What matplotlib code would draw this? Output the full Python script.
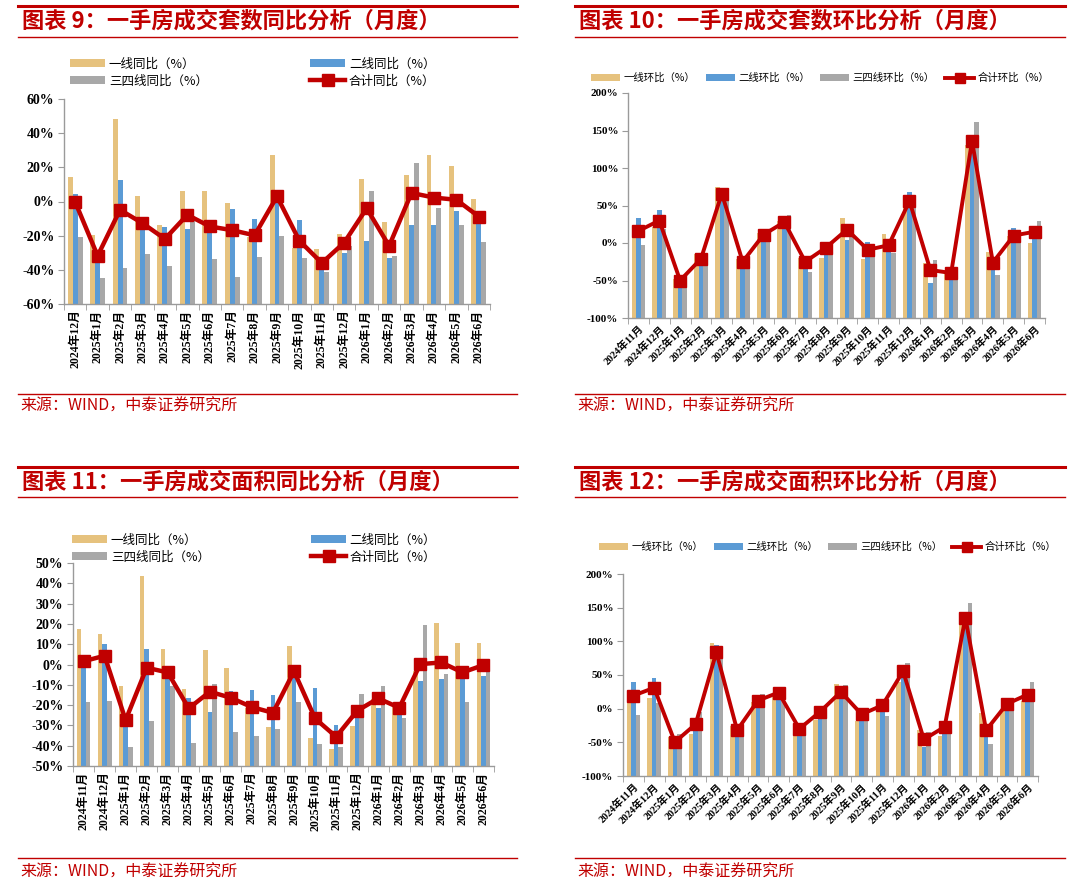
import numpy as np
import matplotlib
matplotlib.use("Agg")
import matplotlib.pyplot as plt
from matplotlib.patches import Patch
from matplotlib.lines import Line2D

plt.rcParams['font.family'] = ['Noto Sans CJK SC', 'DejaVu Sans']

W, H = 1080, 883
RED = "#C00000"
GOLD = "#E6C27E"
BLUE = "#5B9BD5"
GRAY = "#A8A8A8"
AXIS = "#9A9A9A"
SERIF = ['Liberation Serif', 'Noto Sans CJK SC']

# ── data ────────────────────────────────────────────────────────────────────
months_19 = ["2024年12月", "2025年1月", "2025年2月", "2025年3月", "2025年4月",
             "2025年5月", "2025年6月", "2025年7月", "2025年8月", "2025年9月",
             "2025年10月", "2025年11月", "2025年12月", "2026年1月", "2026年2月",
             "2026年3月", "2026年4月", "2026年5月", "2026年6月"]
months_20 = ["2024年11月"] + months_19

# 图表9 套数同比
t1_tier1 = [14.2, -19.5, 48.5, 3.3, -14, 6, 6, -0.6, -21, 27, -27, -28, -19, 13, -12, 15.5, 27, 20.5, 1.5]
t1_tier2 = [4.3, -35, 12.6, -13, -15, -16, -14, -4.3, -10, 1, -10.7, -36, -30, -23, -33, -14, -14, -5.7, -8]
t1_tier34 = [-21, -45, -39, -30.6, -38, -11.7, -33.5, -44, -32.5, -20, -33, -41, -26, 6, -32, 22.4, -4, -14, -24]
t1_total = [-0.3, -31.8, -4.9, -12.7, -21.9, -7.8, -14.6, -16.8, -19.8, 3, -23, -36, -24, -4, -26, 5, 2.3, 1, -8.8]

# 图表10 套数环比
t2_tier1 = [18, 21, -48, -15, 75, -21, 13, 29, -20, -20, 34, -21, 12, 48, -27, -40, 131, -12, 9, 0.5]
t2_tier2 = [34, 44, -58, -27, 68, -29, 6, 24, -31, -12, 4.4, 1, -6, 68, -53, -36, 127, -27, 20, 11]
t2_tier34 = [-2, 19, -45, -16, 69, -27, 12, 38, -38, -4, 18, -11, -13, 63, -22, -47, 162, -42, 1.3, 29]
t2_total = [16, 30, -50, -21, 66, -25, 11, 28, -25, -6, 18, -9, -3, 56, -36, -40, 136, -26, 10, 15]

# 图表11 面积同比
t3_tier1 = [17.7, 15.2, -10.7, 43.6, 7.7, -12, 7, -1.6, -21.6, -31, 9.3, -36, -41.6, -30.3, -17, -21, -3, 20.2, 10.8, 10.5]
t3_tier2 = [1, 10.3, -30, 7.4, -6, -16.7, -23.6, -13, -12.6, -15.2, -6, -11.8, -29.8, -25.7, -21.6, -23.3, -8, -7, -6, -5.9]
t3_tier34 = [-18.4, -18, -40.8, -27.7, -10.7, -38.5, -9.8, -33.4, -35, -31.8, -18.4, -39.3, -40.8, -14.3, -10.5, -26.6, 19.3, -4.6, -18.4, -2]
t3_total = [1.6, 4.3, -27.4, -1.6, -3.9, -21.6, -13.4, -16.4, -21, -23.8, -3.3, -26.6, -35.6, -22.8, -16.7, -21.3, 0.2, 1, -3.9, -0.3]

# 图表12 面积环比
t4_tier1 = [18, 15.4, -42, -38, 97, -25, 10, 18, -29, -17, 36.7, -18, -1, 40, -32, -40, 132, -7, -3, 11.4]
t4_tier2 = [40, 45, -52, -27, 95, -37, 18, 15, -34, -12, 14.4, -9, 2, 53, -57, -29, 122, -39, 3, 18]
t4_tier34 = [-9.4, 8, -38, -4.5, 77, -40, 22, 23, -34, -6, 35, -12, -11.4, 68.5, -35, -21, 157, -52, 4.5, 39]
t4_total = [19.4, 31, -49.6, -23, 84, -32, 12, 24, -30, -4.5, 25, -8.4, 5, 55.6, -45.7, -27, 135, -32, 7, 21]

fig = plt.figure(figsize=(W / 100, H / 100), dpi=100)
fig.patch.set_facecolor("white")


def px_axes(l, t, r, b):
    return fig.add_axes([l / W, 1 - b / H, (r - l) / W, (b - t) / H])


def hline(x0, x1, y, lw):
    fig.add_artist(Line2D([x0 / W, x1 / W], [1 - y / H, 1 - y / H],
                          color=RED, lw=lw, transform=fig.transFigure))


def header(x0, x1, top, bottom, title):
    hline(x0, x1, top, 2.2)
    hline(x0, x1, bottom, 1.0)
    fig.text((x0 + 4) / W, 1 - (top + bottom) / 2 / H, title, color=RED,
             fontsize=16, fontweight='bold', va='center', ha='left')


def footer(x0, x1, y_line, y_text):
    hline(x0, x1, y_line, 1.0)
    fig.text((x0 + 2) / W, 1 - y_text / H, "来源：WIND，中泰证券研究所",
             color=RED, fontsize=11.5, va='center', ha='left')


def legend_item(handle, label, x, y, size, hl):
    fig.legend([handle], [label], loc='center left',
               bbox_to_anchor=(x / W, 1 - y / H), bbox_transform=fig.transFigure,
               frameon=False, fontsize=size, handlelength=hl, handleheight=0.6,
               handletextpad=0.3, borderpad=0, borderaxespad=0)


def draw_panel(ax, labels, tier1, tier2, tier34, total, ylo, yhi, ystep,
               rot, xfs, yfs, lw, ms):
    x = np.arange(len(labels))
    w = 0.22
    # bars start from the bottom of the value axis, as in the source charts
    for off, vals, col in [(-w, tier1, GOLD), (0, tier2, BLUE), (w, tier34, GRAY)]:
        ax.bar(x + off, np.array(vals) - ylo, w, bottom=ylo, color=col,
               linewidth=0, zorder=2)
    ax.plot(x, total, color=RED, lw=lw, marker='s', ms=ms, zorder=3)
    ax.set_xlim(-0.5, len(labels) - 0.5)
    ax.set_ylim(ylo, yhi)
    ax.set_yticks(np.arange(ylo, yhi + 1, ystep))
    ax.set_yticklabels([f"{v}%" for v in np.arange(ylo, yhi + 1, ystep)],
                       fontfamily=SERIF, fontweight='bold', fontsize=yfs)
    ax.set_xticks(x)
    if rot == 90:
        ax.set_xticklabels(labels, rotation=90, fontfamily=SERIF,
                           fontweight='bold', fontsize=xfs, va='top', ha='center')
    else:
        ax.set_xticklabels(labels, rotation=45, fontfamily=SERIF,
                           fontweight='bold', fontsize=xfs, ha='right',
                           va='top', rotation_mode='anchor')
    ax.set_xticks(np.arange(len(labels) + 1) - 0.5, minor=True)
    ax.tick_params(axis='x', which='major', length=0, pad=4)
    ax.tick_params(axis='x', which='minor', length=4, color=AXIS, direction='out')
    ax.tick_params(axis='y', length=4, color=AXIS, direction='out', pad=3)
    for s in ['top', 'right']:
        ax.spines[s].set_visible(False)
    for s in ['left', 'bottom']:
        ax.spines[s].set_color(AXIS)
        ax.spines[s].set_linewidth(1.0)


# ── headers / footers ───────────────────────────────────────────────────────
header(18, 517, 6, 37, "图表 9：一手房成交套数同比分析（月度）")
header(575, 1065, 6, 37, "图表 10：一手房成交套数环比分析（月度）")
header(18, 517, 467, 497, "图表 11：一手房成交面积同比分析（月度）")
header(575, 1065, 467, 497, "图表 12：一手房成交面积环比分析（月度）")
footer(18, 517, 394, 406)
footer(575, 1065, 394, 406)
footer(18, 517, 858, 872)
footer(575, 1065, 858, 872)

# ── panels ──────────────────────────────────────────────────────────────────
ax1 = px_axes(64, 99, 490, 304)
draw_panel(ax1, months_19, t1_tier1, t1_tier2, t1_tier34, t1_total,
           -60, 60, 20, 90, 8.5, 10, 3.2, 9)

ax2 = px_axes(628, 93, 1045, 318)
draw_panel(ax2, months_20, t2_tier1, t2_tier2, t2_tier34, t2_total,
           -100, 200, 50, 45, 7.5, 8, 2.8, 8.5)

ax3 = px_axes(73, 563, 494, 766)
draw_panel(ax3, months_20, t3_tier1, t3_tier2, t3_tier34, t3_total,
           -50, 50, 10, 90, 8.5, 10, 3.2, 9)

ax4 = px_axes(623, 574, 1038, 776)
draw_panel(ax4, months_20, t4_tier1, t4_tier2, t4_tier34, t4_total,
           -100, 200, 50, 45, 7.5, 8, 2.8, 8.5)

# ── legends ─────────────────────────────────────────────────────────────────
def h_bar(c):
    return Patch(facecolor=c, edgecolor='none')


def h_line(lw, ms):
    return Line2D([], [], color=RED, lw=lw, marker='s', ms=ms)


for (lx1, lx2, ly, word) in [(70, 310, 64, "同比"), (72, 311, 540, "同比")]:
    legend_item(h_bar(GOLD), f"一线{word}（%）", lx1, ly, 9, 2.8)
    legend_item(h_bar(GRAY), f"三四线{word}（%）", lx1, ly + 17, 9, 2.8)
    legend_item(h_bar(BLUE), f"二线{word}（%）", lx2, ly, 9, 2.8)
    legend_item(h_line(3.2, 8), f"合计{word}（%）", lx2, ly + 17, 9, 2.8)

for (xs, ly) in [((591, 706, 820, 945), 78), ((599, 714, 828, 952), 547)]:
    legend_item(h_bar(GOLD), "一线环比（%）", xs[0], ly, 7.5, 2.8)
    legend_item(h_bar(BLUE), "二线环比（%）", xs[1], ly, 7.5, 2.8)
    legend_item(h_bar(GRAY), "三四线环比（%）", xs[2], ly, 7.5, 2.8)
    legend_item(h_line(2.8, 7), "合计环比（%）", xs[3], ly, 7.5, 2.8)

fig.savefig("out.png", dpi=100, facecolor="white")
